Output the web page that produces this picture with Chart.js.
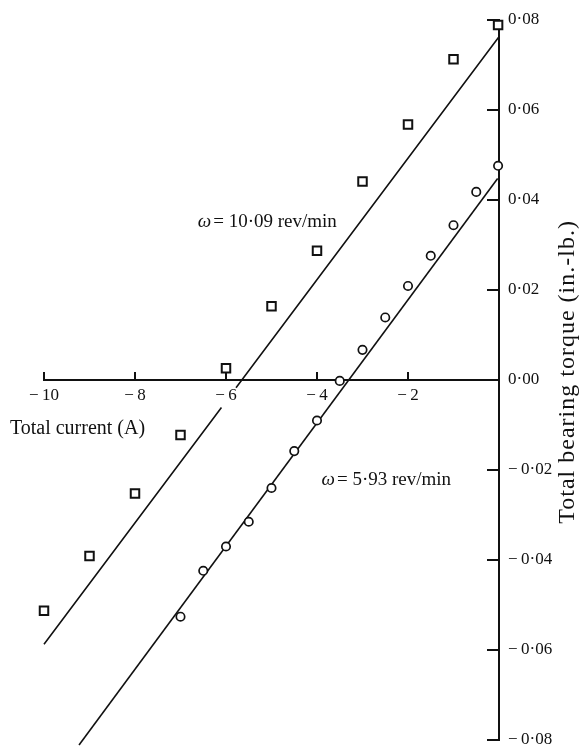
<!DOCTYPE html>
<html>
<head>
<meta charset="utf-8">
<script src="https://cdn.jsdelivr.net/npm/chart.js@4.4.1/dist/chart.umd.min.js"></script>
<style>
html,body{margin:0;padding:0;background:#fff;}
canvas{display:block;}
</style>
</head>
<body>
<canvas id="c" width="579" height="749"></canvas>
<script>
// ---- data ----
const squareCurrent = [-0.02, -1, -2, -3, -4, -5, -6, -7, -8, -9, -10];
const squareTorque  = [0.0789, 0.0713, 0.0568, 0.0441, 0.0287, 0.0164, 0.0026, -0.0122, -0.0252, -0.0391, -0.0513];

const circleCurrent = [-0.02, -0.5, -1, -1.5, -2, -2.5, -3, -3.5, -4, -4.5, -5, -5.5, -6, -6.5, -7];
const circleTorque  = [0.0476, 0.0418, 0.0344, 0.0276, 0.0209, 0.0139, 0.0067, -0.0002, -0.009, -0.0158, -0.024, -0.0315, -0.037, -0.0424, -0.0526];

// fitted straight lines (end points; the fast line is broken around the "−6" label)
const fastLineCurrent = [-10, -6.1, null, -5.78, 0];
const fastLineTorque  = [-0.0587, -0.0061, null, -0.0017, 0.0763];
const slowLineCurrent = [-9.23, -0.03];
const slowLineTorque  = [-0.0811, 0.0448];

const xTickValues = [-10, -8, -6, -4, -2, 0];
const xTickLabels = ['\u2212\u200910', '\u2212\u20098', '\u2212\u20096', '\u2212\u20094', '\u2212\u20092', ''];
const yTickValues = [-0.08, -0.06, -0.04, -0.02, 0, 0.02, 0.04, 0.06, 0.08];
const yTickLabels = ['\u2212\u20090\u00b708', '\u2212\u20090\u00b706', '\u2212\u20090\u00b704', '\u2212\u20090\u00b702', '0\u00b700', '0\u00b702', '0\u00b704', '0\u00b706', '0\u00b708'];

const xTitle = 'Total current (A)';
const yTitle = 'Total bearing torque (in.-lb.)';
const fastLabel = '= 10\u00b709 rev/min';
const slowLabel = '= 5\u00b793 rev/min';
const omega = '\u03c9';
// label anchors in data units (left edge, vertical centre)
const fastLabelAt = [-6.62, 0.0351];
const slowLabelAt = [-3.9, -0.0222];
const xTitleAt = [-10.75, -0.0109];
const yTitleAt = [1.5, 0.0018];

// ---- chart ----
const FONT = "'Liberation Serif', 'Times New Roman', serif";
const INK = '#111';

function pts(xs, ys) {
  return xs.map((x, i) => (x === null ? {x: (xs[i-1] + xs[i+1]) / 2, y: null} : {x: x, y: ys[i]}));
}

const textPlugin = {
  id: 'texts',
  afterDraw(chart) {
    const {ctx, scales} = chart;
    const px = v => scales.x.getPixelForValue(v);
    const py = v => scales.y.getPixelForValue(v);
    ctx.save();
    ctx.fillStyle = INK;
    ctx.textBaseline = 'middle';
    ctx.textAlign = 'left';

    ctx.font = '20px ' + FONT;
    ctx.fillText(xTitle, px(xTitleAt[0]), py(xTitleAt[1]));

    function omegaLabel(rest, at) {
      let x = px(at[0]);
      const y = py(at[1]);
      ctx.font = 'italic 19px ' + FONT;
      ctx.fillText(omega, x, y);
      x += ctx.measureText(omega).width + 2;
      ctx.font = '19px ' + FONT;
      ctx.fillText(rest, x, y);
    }
    omegaLabel(fastLabel, fastLabelAt);
    omegaLabel(slowLabel, slowLabelAt);

    ctx.translate(px(yTitleAt[0]), py(yTitleAt[1]));
    ctx.rotate(-Math.PI / 2);
    ctx.textAlign = 'center';
    ctx.font = '24px ' + FONT;
    if ('letterSpacing' in ctx) ctx.letterSpacing = '1px';
    ctx.fillText(yTitle, 0, 0);
    ctx.restore();
  }
};

new Chart(document.getElementById('c'), {
  type: 'scatter',
  data: {
    datasets: [
      {
        label: 'ω = 10·09 rev/min',
        data: pts(squareCurrent, squareTorque),
        pointStyle: 'rect',
        pointRadius: 6,
        pointBorderWidth: 2,
        pointBorderColor: INK,
        pointBackgroundColor: '#fff',
        showLine: false,
        clip: false
      },
      {
        label: 'ω = 5·93 rev/min',
        data: pts(circleCurrent, circleTorque),
        pointStyle: 'circle',
        pointRadius: 4.2,
        pointBorderWidth: 1.7,
        pointBorderColor: INK,
        pointBackgroundColor: '#fff',
        showLine: false,
        clip: false
      },
      {
        label: 'fit 10·09',
        data: pts(fastLineCurrent, fastLineTorque),
        showLine: true,
        spanGaps: false,
        borderColor: INK,
        borderWidth: 1.6,
        pointRadius: 0,
        clip: false
      },
      {
        label: 'fit 5·93',
        data: pts(slowLineCurrent, slowLineTorque),
        showLine: true,
        borderColor: INK,
        borderWidth: 1.6,
        pointRadius: 0,
        clip: false
      }
    ]
  },
  options: {
    responsive: false,
    animation: false,
    devicePixelRatio: 1,
    layout: {padding: {left: 44, top: 20, right: 0, bottom: 9}},
    plugins: {legend: {display: false}, tooltip: {enabled: false}},
    scales: {
      x: {
        type: 'linear',
        min: -10,
        max: 0,
        position: {y: 0},
        afterBuildTicks: s => { s.ticks = xTickValues.map(v => ({value: v})); },
        afterFit: s => { s.paddingLeft = 0; s.paddingRight = 0; s.paddingTop = 0; s.paddingBottom = 0; },
        ticks: {
          color: INK,
          padding: 16,
          maxRotation: 0,
          autoSkip: false,
          font: {family: FONT, size: 17, lineHeight: 1},
          callback: (v, i) => xTickLabels[xTickValues.indexOf(v)] ?? ''
        },
        grid: {drawOnChartArea: false, drawTicks: true, tickLength: -9, color: INK, lineWidth: 2},
        border: {display: true, color: INK, width: 2}
      },
      y: {
        type: 'linear',
        min: -0.08,
        max: 0.08,
        position: 'right',
        afterFit: s => { s.width = 80; s.paddingTop = 0; s.paddingBottom = 0; },
        afterBuildTicks: s => { s.ticks = yTickValues.map(v => ({value: v})); },
        ticks: {
          color: INK,
          padding: 21,
          autoSkip: false,
          font: {family: FONT, size: 17, lineHeight: 1},
          callback: (v) => {
            const i = yTickValues.findIndex(t => Math.abs(t - v) < 1e-9);
            return i >= 0 ? yTickLabels[i] : '';
          }
        },
        grid: {drawOnChartArea: false, drawTicks: true, tickLength: -12, color: INK, lineWidth: 2},
        border: {display: true, color: INK, width: 2}
      }
    }
  },
  plugins: [textPlugin]
});
</script>
</body>
</html>
